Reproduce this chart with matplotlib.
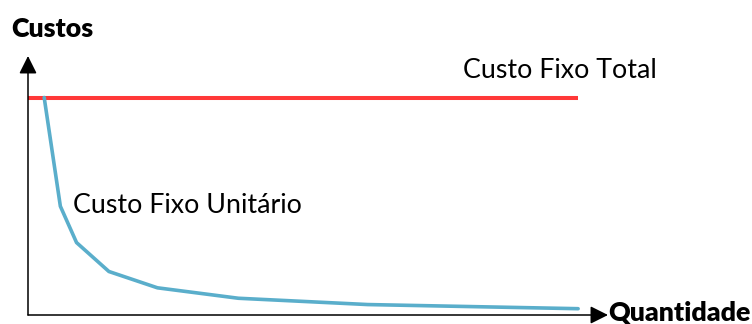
import matplotlib.pyplot as plt

# quantidade produzida e custos (unidades arbitrárias)
quantidade = [1, 2, 3, 5, 8, 13, 21, 34]
custo_fixo_unitario = [100, 50, 33.3, 20, 12.5, 7.7, 4.8, 2.9]
faixa_total = [0, 34]
custo_fixo_total = [100, 100]

plt.rcParams['font.family'] = ['Lato', 'DejaVu Sans']

W, H = 752, 324
fig = plt.figure(figsize=(W / 100, H / 100), dpi=100)

# eixos: origem em (28, 315) px, setas até (608, 56) px
x0, y0, x1, y1 = 28, 315, 608, 56
ax = fig.add_axes([x0 / W, (H - y0) / H, (x1 - x0) / W, (y0 - y1) / H])
ax.set_xlim(0, (x1 - x0) / 16.18)
ax.set_ylim(0, (y0 - y1) / 2.175)
ax.axis('off')

ax.plot(faixa_total, custo_fixo_total, color='#ff3838', lw=2.9,
        solid_capstyle='butt', zorder=3)
ax.plot(quantidade, custo_fixo_unitario, color='#5aaecb', lw=2.6,
        solid_joinstyle='miter', solid_capstyle='round', zorder=3)

seta = dict(arrowstyle='-|>', color='black', lw=1.1, mutation_scale=27,
            shrinkA=0, shrinkB=0)
ax.annotate('', xy=(1, 0), xytext=(0, 0), xycoords='axes fraction',
            arrowprops=seta)
ax.annotate('', xy=(0, 1), xytext=(0, 0), xycoords='axes fraction',
            arrowprops=seta)

ax.text(26.9, 109, 'Custo Fixo Total', fontsize=19.3, va='baseline', ha='left')
ax.text(2.8, 47, 'Custo Fixo Unitário', fontsize=19.3, va='baseline', ha='left')

fig.text(11 / W, (H - 37) / H, 'Custos', fontsize=19.3, fontweight='heavy',
         va='baseline', ha='left')
fig.text(608 / W, (H - 321) / H, 'Quantidade', fontsize=19.3, fontweight='heavy',
         va='baseline', ha='left')

fig.savefig('out.png', dpi=100, facecolor='white')
